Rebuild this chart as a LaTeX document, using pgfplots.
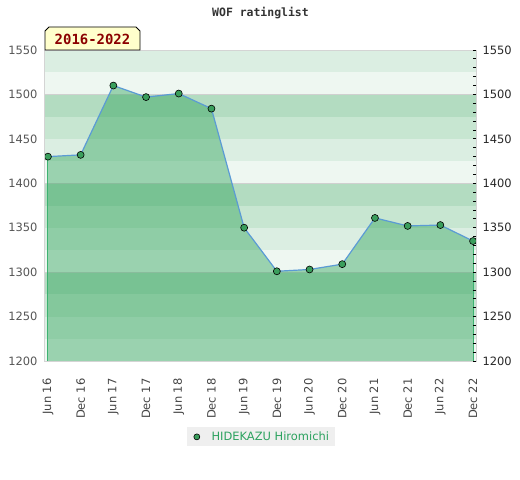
\documentclass[border=0pt]{standalone}
\usepackage{fontspec}
\setmainfont{DejaVu Sans}
\newfontfamily\monofont{DejaVu Sans Mono}
\usepackage{pgfplots}
\usepackage{pgfplotstable}
\pgfplotsset{compat=1.18}

\definecolor{bvlight}{HTML}{EEF7F1}
\definecolor{blight}{HTML}{DBEEE2}
\definecolor{bmidl}{HTML}{C7E6D1}
\definecolor{bmid}{HTML}{B3DCC1}
\definecolor{gridgray}{HTML}{D0D0D0}
\definecolor{framegray}{HTML}{D4D4D4}
\definecolor{areagreen}{HTML}{2CA258}
\definecolor{edgegreen}{HTML}{3CB371}
\definecolor{lineblue}{HTML}{5B9BD5}
\definecolor{markgreen}{HTML}{3A9E5C}
\definecolor{labgray}{HTML}{444444}
\definecolor{ylabgray}{HTML}{555555}
\definecolor{legendgray}{HTML}{EFEFEF}
\definecolor{legendgreen}{HTML}{2CA25F}
\definecolor{boxyellow}{HTML}{FFFFCC}
\definecolor{boxred}{HTML}{8B0000}
\definecolor{titlegray}{HTML}{333333}

\pgfplotstableread{
x y
0 1430
1 1432
2 1510
3 1497
4 1501
5 1484
6 1350
7 1301
8 1303
9 1309
10 1361
11 1352
12 1353
13 1335
}\ratings

\begin{document}
\begin{tikzpicture}
\useasboundingbox (0,0) rectangle (520bp,480bp);
\node[font=\monofont\bfseries\fontsize{11.5}{13}\selectfont, text=titlegray] at (260.5bp,467bp) {WOF ratinglist};
\begin{axis}[
  at={(45bp,119bp)}, anchor=south west,
  scale only axis, width=431bp, height=311bp,
  xmin=-0.09, xmax=13.09, ymin=1200, ymax=1550,
  axis line style={draw=framegray, line width=1bp},
  axis on top,
  xtick={0,...,13},
  xticklabels={Jun 16,Dec 16,Jun 17,Dec 17,Jun 18,Dec 18,Jun 19,Dec 19,Jun 20,Dec 20,Jun 21,Dec 21,Jun 22,Dec 22},
  xticklabel style={yshift=-4bp, rotate=90, anchor=east, font=\fontsize{11.5}{13}\selectfont, text=labgray},
  xticklabel shift=10bp,
  ytick={1200,1250,...,1550},
  yticklabel style={font=\fontsize{11.5}{13}\selectfont, text=ylabgray},
  yticklabel shift=4bp,
  major tick length=0pt,
  /pgf/number format/assume math mode=true,
  /pgf/number format/1000 sep={},
  clip mode=individual,
  legend style={at={(0.501,-0.244)}, anchor=center, fill=legendgray, draw=none,
    font=\fontsize{11.5}{13}\selectfont, text=legendgreen, inner xsep=4bp, inner ysep=2.5bp},
  legend image code/.code={\path[draw=none] (0cm,0cm) -- (0.66cm,0cm); \node[circle, draw=black, fill=markgreen, inner sep=0pt, minimum size=6bp, line width=0.6bp] at (0.21cm,0cm) {};},
]
% background bands
\fill[bvlight] (axis cs:-0.09,1200) rectangle (axis cs:13.09,1225);
\fill[blight]  (axis cs:-0.09,1225) rectangle (axis cs:13.09,1250);
\fill[bmidl]   (axis cs:-0.09,1250) rectangle (axis cs:13.09,1275);
\fill[bmid]    (axis cs:-0.09,1275) rectangle (axis cs:13.09,1300);
\fill[bvlight] (axis cs:-0.09,1300) rectangle (axis cs:13.09,1325);
\fill[blight]  (axis cs:-0.09,1325) rectangle (axis cs:13.09,1350);
\fill[bmidl]   (axis cs:-0.09,1350) rectangle (axis cs:13.09,1375);
\fill[bmid]    (axis cs:-0.09,1375) rectangle (axis cs:13.09,1400);
\fill[bvlight] (axis cs:-0.09,1400) rectangle (axis cs:13.09,1425);
\fill[blight]  (axis cs:-0.09,1425) rectangle (axis cs:13.09,1450);
\fill[bmidl]   (axis cs:-0.09,1450) rectangle (axis cs:13.09,1475);
\fill[bmid]    (axis cs:-0.09,1475) rectangle (axis cs:13.09,1500);
\fill[bvlight] (axis cs:-0.09,1500) rectangle (axis cs:13.09,1525);
\fill[blight]  (axis cs:-0.09,1525) rectangle (axis cs:13.09,1550);
\draw[gridgray, line width=0.8bp] (axis cs:-0.09,1300) -- (axis cs:13.09,1300);
\draw[gridgray, line width=0.8bp] (axis cs:-0.09,1400) -- (axis cs:13.09,1400);
\draw[gridgray, line width=0.8bp] (axis cs:-0.09,1500) -- (axis cs:13.09,1500);
\addplot[draw=none, fill=areagreen, fill opacity=0.43, forget plot] table[x=x,y=y] {\ratings} \closedcycle;
\addplot[draw=edgegreen, line width=1bp, forget plot] coordinates {(0,1200) (0,1430)};
\addplot[draw=edgegreen, line width=1bp, forget plot] coordinates {(13,1200) (13,1335)};
\addplot[draw=lineblue, line width=1.2bp, forget plot] table[x=x,y=y] {\ratings};
\addplot[only marks, mark=*, mark size=3.5bp, mark options={fill=markgreen, draw=black, line width=0.6bp}] table[x=x,y=y] {\ratings};
\addlegendentry{HIDEKAZU Hiromichi}
\end{axis}
\begin{axis}[
  at={(45bp,119bp)}, anchor=south west,
  scale only axis, width=431bp, height=311bp,
  xmin=-0.09, xmax=13.09, ymin=1200, ymax=1550,
  axis x line=none, axis y line*=right, axis line style={draw=none},
  ytick={1200,1250,...,1550},
  minor ytick={1210,1220,...,1540},
  tick align=inside, major tick length=3bp, minor tick length=3bp,
  tick style={black, line width=0.8bp},
  yticklabel style={font=\fontsize{11.5}{13}\selectfont, text=black!85},
  yticklabel shift=3bp,
  /pgf/number format/assume math mode=true,
  /pgf/number format/1000 sep={},
]
\addplot[draw=none] coordinates {(0,1300)};
\end{axis}
\draw[black, line width=0.8bp, fill=boxyellow] (45bp,430bp) -- (45bp,449bp) -- (49bp,453bp) -- (136bp,453bp) -- (140bp,449bp) -- (140bp,430bp) -- cycle;
\node[font=\monofont\bfseries\fontsize{14}{16}\selectfont, text=boxred] at (92.5bp,440.5bp) {2016-2022};
\end{tikzpicture}
\end{document}
